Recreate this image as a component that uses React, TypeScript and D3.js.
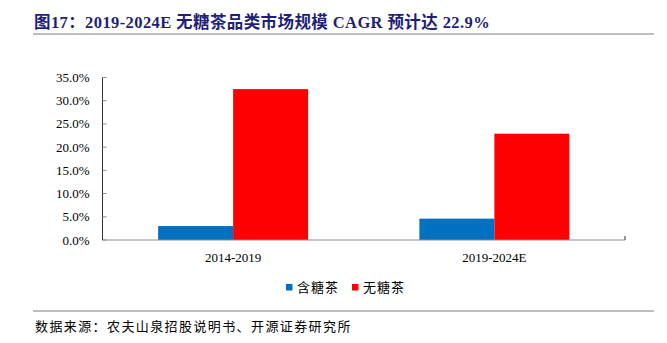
import React from "react";
import * as d3 from "d3";

const categories = ["2014-2019", "2019-2024E"];
const seriesNames = ["含糖茶", "无糖茶"];
const sugaredValues = [3.0, 4.6];
const sugarFreeValues = [32.5, 22.9];
const yTicks = [0, 5, 10, 15, 20, 25, 30, 35];
const colors = ["#0070C0", "#FF0000"];

const W = 667;
const H = 343;

export default function App() {
  const left = 102.5;
  const right = 625;
  const top = 77.5;
  const bottom = 240;
  const x0 = d3.scaleBand<string>().domain(categories).range([left, right]).paddingInner(0).paddingOuter(0);
  const x1 = d3
    .scaleBand<string>()
    .domain(seriesNames)
    .range([0, x0.bandwidth()])
    .paddingInner(0)
    .paddingOuter(0.742);
  const y = d3.scaleLinear().domain([0, 35]).range([bottom, top]);
  const series = [sugaredValues, sugarFreeValues];
  const serif = "'Liberation Serif', 'Times New Roman', serif";
  const cjk = "'Liberation Serif', 'Noto Sans CJK SC', serif";

  return (
    <svg width={W} height={H} style={{ position: "absolute", left: 0, top: 0, background: "#fff" }}>
      <text x={34} y={28} fontFamily={cjk} fontWeight="bold" fontSize={16.5} letterSpacing={0.4} fill="#1F1F7A">
        图17：2019-2024E 无糖茶品类市场规模 CAGR 预计达 22.9%
      </text>
      <line x1={33} x2={654} y1={34} y2={34} stroke="#7f7f7f" strokeWidth={1.2} />

      {series.map((vals, si) =>
        categories.map((c, ci) => (
          <rect
            key={`${si}-${ci}`}
            x={(x0(c) as number) + (x1(seriesNames[si]) as number)}
            width={x1.bandwidth()}
            y={y(vals[ci])}
            height={bottom - y(vals[ci])}
            fill={colors[si]}
          />
        ))
      )}

      <line x1={left} x2={right} y1={bottom} y2={bottom} stroke="#8c8c8c" strokeWidth={1} />
      <line x1={right} x2={right} y1={bottom} y2={bottom - 4} stroke="#333" strokeWidth={1} />
      <line x1={left} x2={left} y1={top} y2={bottom} stroke="#333" strokeWidth={1} />
      {yTicks.map((t) => (
        <g key={t}>
          <line x1={left} x2={left + 4} y1={y(t)} y2={y(t)} stroke="#888" strokeWidth={1} />
          <text
            x={89.5}
            y={y(t)}
            dy="0.35em"
            textAnchor="end"
            fontFamily={serif}
            fontSize={13}
            fill="#000"
          >
            {t.toFixed(1)}%
          </text>
        </g>
      ))}
      {categories.map((c) => (
        <text
          key={c}
          x={(x0(c) as number) + x0.bandwidth() / 2}
          y={262}
          textAnchor="middle"
          fontFamily={serif}
          fontSize={13}
          fill="#000"
        >
          {c}
        </text>
      ))}

      {seriesNames.map((s, i) => (
        <g key={s} transform={`translate(${286 + i * 66},0)`}>
          <rect x={0} y={284} width={6.5} height={6.5} fill={colors[i]} />
          <text x={11} y={291.5} fontFamily="'Noto Sans CJK SC', sans-serif" fontSize={13} letterSpacing={1} fill="#000">
            {s}
          </text>
        </g>
      ))}

      <line x1={33} x2={654} y1={311} y2={311} stroke="#7f7f7f" strokeWidth={1.2} />
      <text x={35} y={331} fontFamily="'Noto Sans CJK SC', sans-serif" fontSize={13} letterSpacing={1.4} fill="#000">
        数据来源：农夫山泉招股说明书、开源证券研究所
      </text>
    </svg>
  );
}
